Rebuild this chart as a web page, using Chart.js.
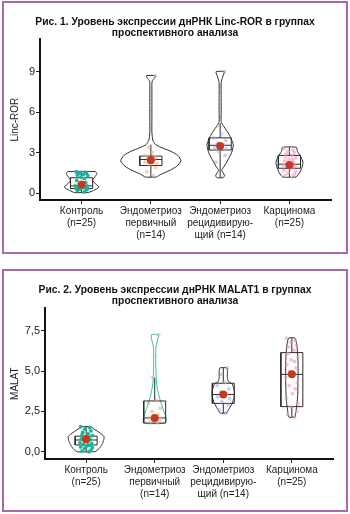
<!DOCTYPE html>
<html>
<head>
<meta charset="utf-8">
<script src="https://cdn.jsdelivr.net/npm/chart.js@4.4.0/dist/chart.umd.min.js"></script>
<style>
  body { margin: 0; width: 350px; height: 514px; position: relative; overflow: hidden; background: #fff; }
  .frame { position: absolute; left: 2px; width: 346px; border: 2px solid #a868ac; box-sizing: border-box; }
  .wrap { position: absolute; left: 0; width: 350px; height: 256px; }
</style>
</head>
<body>
<div class="frame" style="top:1px;height:253px"></div>
<div class="frame" style="top:269px;height:243px"></div>
<div class="wrap" style="top:0"><canvas id="ror" width="350" height="256"></canvas></div>
<div class="wrap" style="top:258px"><canvas id="malat" width="350" height="256"></canvas></div>
<script>
const categories = [
  ['Контроль', '(n=25)'],
  ['Эндометриоз', 'первичный', '(n=14)'],
  ['Эндометриоз', 'рецидивирую-', 'щий (n=14)'],
  ['Карцинома', '(n=25)']
];
const pointColors = ['#1db39b', 'rgba(240,165,125,0.55)', 'rgba(170,165,225,0.55)', 'rgba(238,150,195,0.6)'];
const jitter = [0.04, -0.06, 0.07, -0.02, 0.09, -0.08, 0.01, 0.05, -0.04, 0.08, -0.09, 0.02, -0.03,
                0.06, -0.07, 0.04, -0.01, 0.09, -0.06, 0.03, -0.05, 0.07, -0.02, 0.05, -0.08];

// Рис. 1 — Linc-ROR
const rorTicks = [0, 3, 6, 9];
const rorMin = [0.05, 1.2, 1.15, 1.2];
const rorQ1 = [0.35, 2.05, 3.2, 1.85];
const rorMed = [0.55, 2.5, 3.55, 2.15];
const rorQ3 = [1.15, 2.75, 4.1, 2.8];
const rorMax = [1.6, 3.6, 5.2, 3.4];
const rorMean = [0.65, 2.45, 3.5, 2.1];
const rorLevels = [
  [0.05, 0.2, 0.45, 0.7, 0.95, 1.2, 1.45, 1.6],
  [1.2, 1.4, 1.7, 2.0, 2.4, 2.8, 3.1, 3.4, 3.6, 3.9, 4.5, 5.5, 6.5, 7.5, 8.1, 8.35, 8.5, 8.7],
  [1.15, 1.3, 1.5, 1.7, 2.0, 2.5, 3.0, 3.6, 4.2, 4.6, 5.0, 5.3, 6, 7, 8.2, 8.6, 9.0],
  [1.2, 1.5, 1.9, 2.3, 2.7, 3.1, 3.4]
];
const rorWidths = [
  [0.10, 0.17, 0.25, 0.20, 0.16, 0.19, 0.22, 0.20],
  [0.08, 0.145, 0.275, 0.375, 0.435, 0.39, 0.29, 0.145, 0.07, 0.03, 0.015, 0.015, 0.015, 0.015, 0.015, 0.022, 0.05, 0.065],
  [0.045, 0.065, 0.045, 0.022, 0.06, 0.115, 0.165, 0.19, 0.145, 0.10, 0.045, 0.015, 0.015, 0.015, 0.015, 0.035, 0.06],
  [0.095, 0.145, 0.18, 0.195, 0.165, 0.115, 0.10]
];
const rorPoints = [
  [0.1, 0.2, 0.25, 0.3, 0.35, 0.35, 0.4, 0.45, 0.5, 0.55, 0.55, 0.6, 0.7, 0.8, 0.95, 1.1, 1.2, 1.3, 1.35, 1.4, 1.45, 1.5, 1.5, 1.55, 1.6],
  [1.3, 1.6, 1.9, 2.1, 2.2, 2.3, 2.4, 2.5, 2.6, 2.7, 2.8, 3.0, 3.4, 8.7],
  [1.2, 2.3, 2.8, 3.1, 3.3, 3.4, 3.5, 3.6, 3.7, 3.9, 4.1, 4.4, 5.0, 9.0],
  [1.2, 1.3, 1.4, 1.5, 1.6, 1.7, 1.8, 1.9, 2.0, 2.0, 2.1, 2.2, 2.2, 2.3, 2.4, 2.5, 2.5, 2.6, 2.7, 2.8, 2.9, 3.0, 3.1, 3.2, 3.3]
];

// Рис. 2 — MALAT1
const malatTicks = [0, 2.5, 5, 7.5];
const malatMin = [0.0, 1.75, 2.4, 2.15];
const malatQ1 = [0.42, 1.78, 3.0, 2.8];
const malatMed = [0.73, 2.1, 3.55, 4.8];
const malatQ3 = [0.97, 3.15, 4.25, 6.15];
const malatMax = [1.55, 4.6, 5.2, 7.05];
const malatMean = [0.77, 2.1, 3.55, 4.8];
const malatLevels = [
  [0.0, 0.2, 0.45, 0.7, 0.95, 1.2, 1.45, 1.55],
  [1.75, 1.9, 2.2, 2.6, 3.0, 3.5, 4.0, 4.5, 5.5, 6.5, 6.8, 7.25],
  [2.4, 2.7, 3.0, 3.4, 3.8, 4.2, 4.35, 4.6, 5.0, 5.2],
  [2.15, 2.5, 3.0, 3.5, 4.5, 5.5, 6.3, 6.8, 7.05]
];
const malatWidths = [
  [0.13, 0.19, 0.23, 0.255, 0.26, 0.19, 0.10, 0.07],
  [0.13, 0.17, 0.16, 0.125, 0.095, 0.06, 0.035, 0.022, 0.015, 0.018, 0.035, 0.05],
  [0.045, 0.09, 0.13, 0.16, 0.16, 0.13, 0.075, 0.06, 0.06, 0.05],
  [0.045, 0.06, 0.075, 0.085, 0.09, 0.09, 0.08, 0.065, 0.045]
];
const malatPoints = [
  [0.0, 0.05, 0.1, 0.2, 0.25, 0.3, 0.35, 0.4, 0.45, 0.5, 0.55, 0.6, 0.7, 0.75, 0.8, 0.85, 0.9, 1.0, 1.05, 1.1, 1.2, 1.3, 1.4, 1.5, 1.55],
  [1.8, 1.85, 1.9, 2.0, 2.05, 2.1, 2.2, 2.3, 2.5, 2.7, 3.0, 3.2, 4.6, 7.25],
  [2.4, 2.6, 2.9, 3.1, 3.3, 3.4, 3.5, 3.6, 3.7, 3.9, 4.1, 4.3, 4.8, 5.2],
  [2.15, 2.3, 2.5, 2.8, 3.0, 3.3, 3.6, 3.9, 4.1, 4.3, 4.6, 4.8, 5.0, 5.2, 5.4, 5.6, 5.7, 5.9, 6.1, 6.3, 6.5, 6.6, 6.8, 6.9, 7.05]
];

const family = '"Liberation Sans", Arial, sans-serif';
const boxHalf = 0.16;

function violinPath(cx, levels, widths) {
  const pts = [];
  for (let i = 0; i < levels.length; i++) pts.push({x: cx + widths[i], y: levels[i]});
  for (let i = levels.length - 1; i >= 0; i--) pts.push({x: cx - widths[i], y: levels[i]});
  pts.push({x: cx + widths[0], y: levels[0]});
  return pts;
}

function buildDatasets(p) {
  const outline = [], teal = [], boxes = [], dots = [], dotColors = [];
  categories.forEach((c, i) => {
    const cx = i + 1;
    const target = p.tealViolin === i ? teal : outline;
    target.push(...violinPath(cx, p.levels[i], p.widths[i]), {x: cx, y: null});
    boxes.push({x: cx - boxHalf, y: p.q1[i]}, {x: cx + boxHalf, y: p.q1[i]}, {x: cx + boxHalf, y: p.q3[i]},
               {x: cx - boxHalf, y: p.q3[i]}, {x: cx - boxHalf, y: p.q1[i]}, {x: cx, y: null});
    boxes.push({x: cx - boxHalf, y: p.med[i]}, {x: cx + boxHalf, y: p.med[i]}, {x: cx, y: null});
    boxes.push({x: cx, y: p.min[i]}, {x: cx, y: p.q1[i]}, {x: cx, y: null});
    boxes.push({x: cx, y: p.q3[i]}, {x: cx, y: p.max[i]}, {x: cx, y: null});
    p.points[i].forEach((v, k) => {
      dots.push({x: cx + jitter[k % jitter.length], y: v});
      dotColors.push(pointColors[i]);
    });
  });
  const line = {pointRadius: 0, fill: false, borderWidth: 1, spanGaps: false};
  return [
    {...line, data: outline, borderColor: '#2b2b2b', tension: 0.2, order: 4},
    {...line, data: teal, borderColor: '#2fbfa6', tension: 0.2, order: 4},
    {...line, data: boxes, borderColor: '#2b2b2b', tension: 0, order: 3},
    {data: dots, showLine: false, pointRadius: 1.9, pointBorderWidth: 0, pointBackgroundColor: dotColors, order: 2},
    {data: p.mean.map((v, i) => ({x: i + 1, y: v})), showLine: false, pointRadius: 4,
     pointBorderWidth: 0, pointBackgroundColor: '#c33a22', order: 1}
  ];
}

function makeChart(id, p) {
  const axisGrid = {display: true, drawOnChartArea: false, drawTicks: true, tickLength: 4, tickColor: '#222', tickWidth: 1};
  const axisBorder = {display: true, color: '#111', width: 2};
  return new Chart(document.getElementById(id), {
    type: 'line',
    data: {datasets: buildDatasets(p)},
    options: {
      responsive: false,
      animation: false,
      layout: {padding: 0},
      plugins: {
        legend: {display: false},
        tooltip: {enabled: false},
        title: {
          display: true,
          text: p.title,
          color: '#111',
          font: {family: family, size: 10.3, weight: 'bold', lineHeight: 1.13},
          padding: p.titlePad
        }
      },
      scales: {
        x: {
          type: 'linear', min: 0.4, max: 4.6,
          afterBuildTicks: s => { s.ticks = categories.map((c, i) => ({value: i + 1})); },
          afterFit: s => { s.height = p.xHeight; },
          ticks: {
            callback: (v, i) => categories[i],
            font: {family: family, size: 10, lineHeight: 1.2},
            color: '#222', padding: 1, maxRotation: 0, autoSkip: false
          },
          grid: axisGrid,
          border: axisBorder
        },
        y: {
          type: 'linear', min: p.yMin, max: p.yMax,
          afterBuildTicks: s => { s.ticks = p.ticks.map(v => ({value: v})); },
          afterFit: s => { s.width = p.yWidth; },
          ticks: {
            callback: p.fmt,
            font: {family: family, size: 11},
            color: '#222', padding: 1
          },
          title: {
            display: true, text: p.yLabel, color: '#222',
            font: {family: family, size: 10},
            padding: {top: 9, bottom: 0}
          },
          grid: axisGrid,
          border: axisBorder
        },
        // empty right margin so the title stays centred on the whole panel
        margin: {
          type: 'linear', position: 'right', display: true,
          afterFit: s => { s.width = p.padRight; },
          ticks: {display: false},
          grid: {display: false},
          border: {display: false}
        }
      }
    }
  });
}

makeChart('ror', {
  title: ['Рис. 1. Уровень экспрессии днРНК Linc-ROR в группах', 'проспективного анализа'],
  titlePad: {top: 16, bottom: 0},
  yLabel: 'Linc-ROR', yMin: -0.5, yMax: 11.4, ticks: rorTicks, fmt: v => String(v),
  yWidth: 40, xHeight: 56, padRight: 19, tealViolin: -1,
  levels: rorLevels, widths: rorWidths, points: rorPoints,
  min: rorMin, q1: rorQ1, med: rorMed, q3: rorQ3, max: rorMax, mean: rorMean
});

makeChart('malat', {
  title: ['Рис. 2. Уровень экспрессии днРНК MALAT1 в группах', 'проспективного анализа'],
  titlePad: {top: 26, bottom: 1},
  yLabel: 'MALAT', yMin: -0.45, yMax: 8.9, ticks: malatTicks, fmt: v => v.toFixed(1).replace('.', ','),
  yWidth: 45, xHeight: 55, padRight: 17, tealViolin: 1,
  levels: malatLevels, widths: malatWidths, points: malatPoints,
  min: malatMin, q1: malatQ1, med: malatMed, q3: malatQ3, max: malatMax, mean: malatMean
});
</script>
</body>
</html>
